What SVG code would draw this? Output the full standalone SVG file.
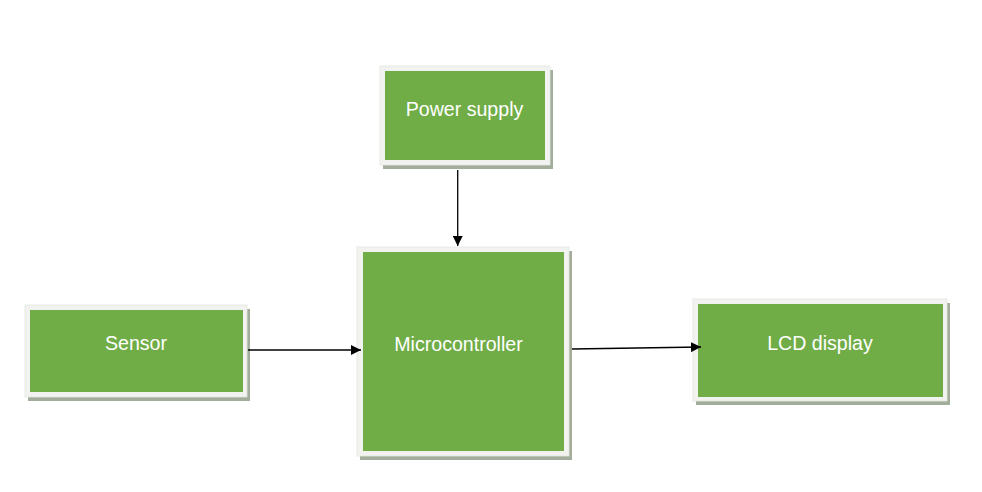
<svg xmlns="http://www.w3.org/2000/svg" width="982" height="492" viewBox="0 0 982 492">
<defs>
<style>
.shadow{fill:#a3ad9b;}
.frame{fill:#f2f3f0;stroke:#e4e6e1;stroke-width:0.8;}
.box{fill:#70ad47;}
.label{font-family:"Liberation Sans",Arial,sans-serif;font-size:19.6px;fill:#ffffff;text-anchor:middle;}
.conn{stroke:#000000;stroke-width:1.3;fill:none;marker-end:url(#arrow);}
</style>
<marker id="arrow" viewBox="0 0 10 10" refX="10" refY="5" markerWidth="10" markerHeight="10" markerUnits="userSpaceOnUse" orient="auto">
<path d="M0,0 L10,5 L0,10 Z" fill="#000000"/>
</marker>
</defs>
<rect width="982" height="492" fill="#ffffff"/>
<g id="power-supply">
<rect class="shadow" x="383" y="70" width="170" height="99"/>
<rect class="frame" x="380" y="66" width="170" height="99"/>
<rect class="box" x="385" y="71" width="160" height="89"/>
<text class="label" x="464.5" y="115.5">Power supply</text>
</g>
<g id="sensor">
<rect class="shadow" x="28" y="309" width="222" height="92"/>
<rect class="frame" x="25" y="305" width="222" height="92"/>
<rect class="box" x="30" y="310" width="213" height="82"/>
<text class="label" x="136" y="350">Sensor</text>
</g>
<g id="microcontroller">
<rect class="shadow" x="360" y="251" width="212" height="209"/>
<rect class="frame" x="357" y="247" width="212" height="209"/>
<rect class="box" x="363" y="252" width="201" height="199"/>
<text class="label" x="458.5" y="351">Microcontroller</text>
</g>
<g id="lcd-display">
<rect class="shadow" x="696" y="303" width="254" height="102"/>
<rect class="frame" x="693" y="299" width="254" height="102"/>
<rect class="box" x="698" y="304" width="245" height="93"/>
<text class="label" x="820" y="349.5">LCD display</text>
</g>
<g id="connectors">
<line class="conn" x1="457.7" y1="170" x2="457.7" y2="246"/>
<line class="conn" x1="248" y1="350" x2="361" y2="350"/>
<line class="conn" x1="572" y1="349" x2="701" y2="347"/>
</g>
</svg>
